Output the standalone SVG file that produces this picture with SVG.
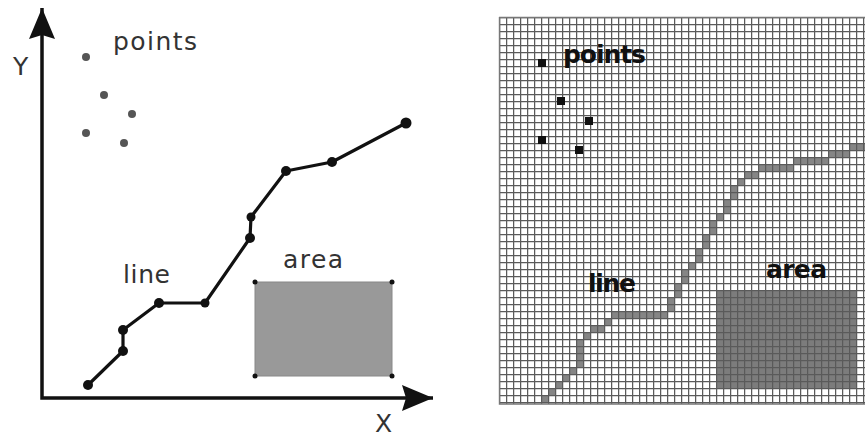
<svg xmlns="http://www.w3.org/2000/svg" width="865" height="437" viewBox="0 0 865 437">
<style>
.lbl{font-family:"DejaVu Sans","Liberation Sans",sans-serif;font-size:25px;fill:#333}
.rlbl{font-family:"DejaVu Sans","Liberation Sans",sans-serif;font-size:25px;font-weight:bold;fill:#111}
.axis{fill:none;stroke:#111;stroke-width:3.5}
.vline{fill:none;stroke:#111;stroke-width:3.2;stroke-linejoin:round}
.vtx{fill:#111}
.pt{fill:#555}
.lc{fill:#858585}
.bp{fill:#111}
</style>
<defs>
<marker id="ah" markerUnits="userSpaceOnUse" viewBox="0 0 31 26" refX="31" refY="13" markerWidth="31" markerHeight="26" orient="auto-start-reverse">
<path d="M0,0 L31,13 L0,26 L4,13 z" fill="#111"/>
</marker>
<pattern id="grid" patternUnits="userSpaceOnUse" x="499" y="17" width="7" height="7">
<path d="M0,0.5 H7 M0.5,0 V7" stroke="#5a5a5a" stroke-width="1.5" fill="none"/>
</pattern>
</defs>
<rect width="865" height="437" fill="#fff"/>

<g id="vector">
<g id="axes">
<path class="axis" d="M42,8 V398 H433" marker-start="url(#ah)" marker-end="url(#ah)"/>
<text class="lbl" x="13" y="75" font-size="30">Y</text>
<text class="lbl" x="375" y="432" font-size="28">X</text>
</g>
<g id="v-points">
<circle class="pt" cx="86" cy="57" r="4"/>
<circle class="pt" cx="104" cy="95" r="4"/>
<circle class="pt" cx="132" cy="114" r="4"/>
<circle class="pt" cx="86" cy="133" r="4"/>
<circle class="pt" cx="124" cy="143" r="4"/>
<text class="lbl" x="113" y="50" textLength="84">points</text>
</g>
<g id="v-line">
<polyline class="vline" points="88,385 123,351 123,330 159,303 205,303 250,238 251,217 286,171 332,162 406,123"/>
<circle class="vtx" cx="88" cy="385" r="5"/>
<circle class="vtx" cx="123" cy="351" r="5"/>
<circle class="vtx" cx="123" cy="330" r="5"/>
<circle class="vtx" cx="159" cy="303" r="5"/>
<circle class="vtx" cx="205" cy="303" r="4.5"/>
<circle class="vtx" cx="250" cy="238" r="5"/>
<circle class="vtx" cx="251" cy="217" r="4.5"/>
<circle class="vtx" cx="286" cy="171" r="5"/>
<circle class="vtx" cx="332" cy="162" r="5"/>
<circle class="vtx" cx="406" cy="123" r="5.5"/>
<text class="lbl" x="123" y="283" textLength="47">line</text>
</g>
<g id="v-area">
<rect x="255" y="282" width="137" height="94" fill="#999" stroke="#888" stroke-width="1"/>
<circle class="vtx" cx="255" cy="282" r="2.5"/>
<circle class="vtx" cx="392" cy="282" r="2.5"/>
<circle class="vtx" cx="255" cy="376" r="2.5"/>
<circle class="vtx" cx="392" cy="376" r="2.5"/>
<text class="lbl" x="283" y="268" textLength="60">area</text>
</g>
</g>

<g id="raster">
<rect x="499" y="17" width="366" height="387" fill="#fff"/>
<g id="r-area">
<rect x="716" y="290" width="140" height="98" fill="#7c7c7c"/>
</g>
<g id="r-line">
<rect class="lc" x="541" y="395" width="7" height="7"/>
<rect class="lc" x="548" y="388" width="7" height="7"/>
<rect class="lc" x="555" y="381" width="7" height="7"/>
<rect class="lc" x="562" y="374" width="7" height="7"/>
<rect class="lc" x="569" y="367" width="7" height="7"/>
<rect class="lc" x="576" y="339" width="7" height="28"/>
<rect class="lc" x="583" y="332" width="7" height="7"/>
<rect class="lc" x="590" y="325" width="14" height="7"/>
<rect class="lc" x="604" y="318" width="7" height="7"/>
<rect class="lc" x="611" y="311" width="56" height="7"/>
<rect class="lc" x="667" y="297" width="7" height="14"/>
<rect class="lc" x="674" y="283" width="7" height="14"/>
<rect class="lc" x="681" y="269" width="7" height="14"/>
<rect class="lc" x="688" y="262" width="7" height="7"/>
<rect class="lc" x="695" y="248" width="7" height="14"/>
<rect class="lc" x="702" y="234" width="7" height="14"/>
<rect class="lc" x="709" y="220" width="7" height="14"/>
<rect class="lc" x="716" y="213" width="7" height="7"/>
<rect class="lc" x="723" y="199" width="7" height="14"/>
<rect class="lc" x="730" y="185" width="7" height="14"/>
<rect class="lc" x="737" y="178" width="7" height="7"/>
<rect class="lc" x="744" y="171" width="14" height="7"/>
<rect class="lc" x="758" y="164" width="35" height="7"/>
<rect class="lc" x="793" y="157" width="35" height="7"/>
<rect class="lc" x="828" y="150" width="21" height="7"/>
<rect class="lc" x="849" y="143" width="16" height="7"/>
</g>
<rect id="r-grid" x="499" y="17" width="366" height="387" fill="url(#grid)"/>
<path d="M499.5,17 V404 H865 M499,17.5 H865" stroke="#777" stroke-width="1.4" fill="none"/>
<g id="r-points">
<rect class="bp" x="538" y="59" width="8" height="8"/>
<rect class="bp" x="557" y="97" width="8" height="8"/>
<rect class="bp" x="585" y="117" width="8" height="8"/>
<rect class="bp" x="538" y="136" width="8" height="8"/>
<rect class="bp" x="575" y="146" width="8" height="8"/>
<text class="rlbl" x="563" y="63" textLength="83">points</text>
</g>
<text class="rlbl" x="588" y="292" textLength="48">line</text>
<text class="rlbl" x="766" y="278" textLength="61">area</text>
</g>
</svg>
